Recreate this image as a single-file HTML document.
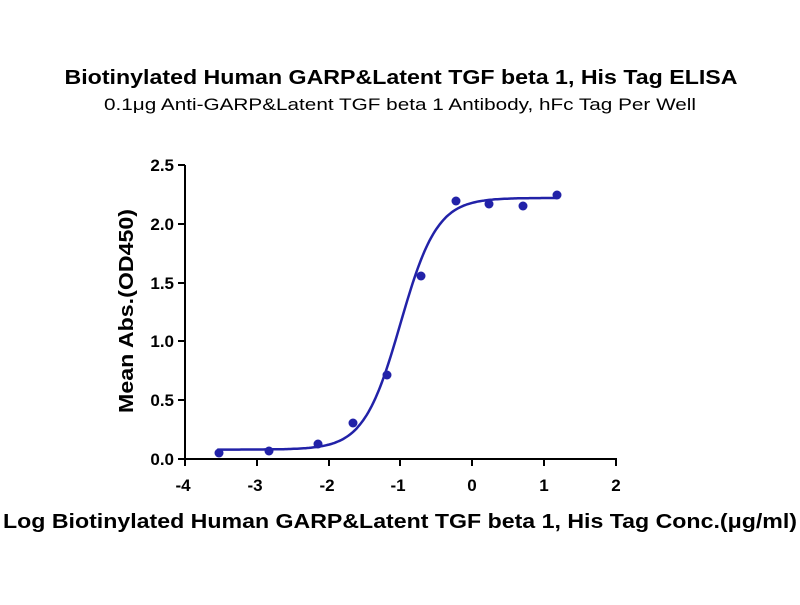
<!DOCTYPE html>
<html><head><meta charset="utf-8"><style>
html,body{margin:0;padding:0;background:#fff;}
svg text{font-family:"Liberation Sans",Arial,sans-serif;}
</style></head><body>
<svg id="s" width="800" height="600" xmlns="http://www.w3.org/2000/svg">
<rect width="800" height="600" fill="#fff"/>
<text x="401" y="84" text-anchor="middle" font-size="20" font-weight="bold" textLength="673" lengthAdjust="spacingAndGlyphs">Biotinylated Human GARP&amp;Latent TGF beta 1, His Tag ELISA</text>
<text x="400" y="110" text-anchor="middle" font-size="17" textLength="592" lengthAdjust="spacingAndGlyphs">0.1μg Anti-GARP&amp;Latent TGF beta 1 Antibody, hFc Tag Per Well</text>
<g stroke="#000" stroke-width="2" fill="none">
<line x1="185" y1="165" x2="185" y2="460"/>
<line x1="184" y1="459" x2="617" y2="459"/>
<line x1="178" y1="459" x2="185" y2="459"/>
<line x1="178" y1="400" x2="185" y2="400"/>
<line x1="178" y1="341" x2="185" y2="341"/>
<line x1="178" y1="283" x2="185" y2="283"/>
<line x1="178" y1="224" x2="185" y2="224"/>
<line x1="178" y1="165" x2="185" y2="165"/>
<line x1="185" y1="459" x2="185" y2="466"/>
<line x1="257" y1="459" x2="257" y2="466"/>
<line x1="329" y1="459" x2="329" y2="466"/>
<line x1="400" y1="459" x2="400" y2="466"/>
<line x1="472" y1="459" x2="472" y2="466"/>
<line x1="544" y1="459" x2="544" y2="466"/>
<line x1="616" y1="459" x2="616" y2="466"/>
</g>
<g font-size="17" font-weight="bold" text-anchor="end">
<text x="174" y="465">0.0</text>
<text x="174" y="406">0.5</text>
<text x="174" y="347">1.0</text>
<text x="174" y="289">1.5</text>
<text x="174" y="230">2.0</text>
<text x="174" y="171">2.5</text>
</g>
<g font-size="17" font-weight="bold" text-anchor="middle">
<text x="183" y="491">-4</text>
<text x="255" y="491">-3</text>
<text x="327" y="491">-2</text>
<text x="398" y="491">-1</text>
<text x="472" y="491">0</text>
<text x="544" y="491">1</text>
<text x="616" y="491">2</text>
</g>
<text transform="translate(133,311) rotate(-90)" text-anchor="middle" font-size="20" font-weight="bold" textLength="204" lengthAdjust="spacingAndGlyphs">Mean Abs.(OD450)</text>
<text x="400" y="528" text-anchor="middle" font-size="20" font-weight="bold" textLength="794" lengthAdjust="spacingAndGlyphs">Log Biotinylated Human GARP&amp;Latent TGF beta 1, His Tag Conc.(μg/ml)</text>
<path id="c" fill="none" stroke="#2222a8" stroke-width="2.5"/>
<g fill="#2222a8">
<circle cx="219" cy="453" r="4.5"/><circle cx="269" cy="451" r="4.5"/>
<circle cx="318" cy="444" r="4.5"/><circle cx="353" cy="423" r="4.5"/>
<circle cx="387" cy="375" r="4.5"/><circle cx="421" cy="276" r="4.5"/>
<circle cx="456" cy="201" r="4.5"/><circle cx="489" cy="204" r="4.5"/>
<circle cx="523" cy="206" r="4.5"/><circle cx="557" cy="195" r="4.5"/>
</g>
<script>
var d="";for(var i=0;i<=200;i++){var x=-3.55+i*(1.18+3.55)/200;
var y=0.08+(2.22-0.08)/(1+Math.pow(10,(-1.0-x)*1.7));
var px=185+(x+4)*71.8,py=459-y*117.6;d+=(i?"L":"M")+px.toFixed(1)+","+py.toFixed(1);}
document.getElementById("c").setAttribute("d",d);
</script>
</svg>
</body></html>
